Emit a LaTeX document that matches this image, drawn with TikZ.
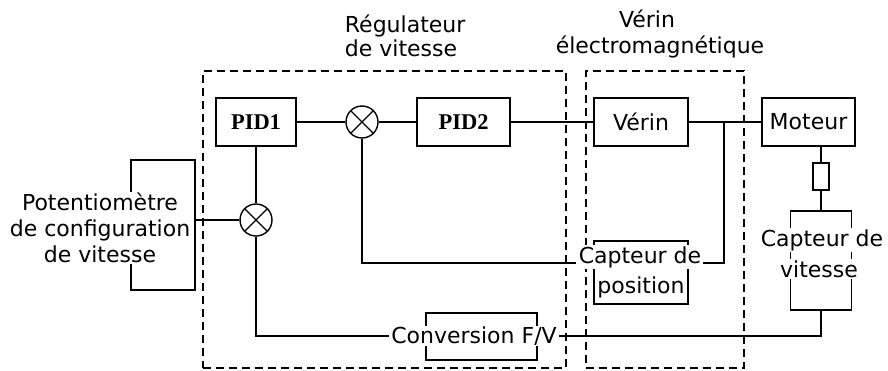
\documentclass[tikz,border=0pt]{standalone}
\usepackage{fontspec}
\setmainfont{DejaVu Sans}
\newfontfamily\pidfont{Liberation Serif}
\begin{document}
\begin{tikzpicture}[x=1pt,y=-1pt,line width=1.8pt,
  blk/.style={draw,rectangle,inner sep=0pt},
  txt/.style={font=\fontsize{22}{26}\selectfont,text=black,inner sep=1pt},
  mask/.style={txt,fill=white},
  pidtxt/.style={font=\pidfont\fontsize{22.5}{26}\selectfont\bfseries},
  sum/.style={draw,circle,minimum size=32pt,inner sep=0pt,line width=1.4pt},
  grp/.style={draw,dash pattern=on 8pt off 5pt,line width=1.5pt,rectangle,inner sep=0pt}]
\useasboundingbox (0,0) rectangle (888,370);
% groups
\node[grp,minimum width=363pt,minimum height=297pt] (reg) at (384.5,219.5) {};
\node[grp,minimum width=158pt,minimum height=297pt] (vgrp) at (665,219.5) {};
% titles
\node[txt,anchor=base west] (t1a) at (343,32) {Régulateur};
\node[txt,anchor=base west] (t1b) at (343,56) {de vitesse};
\node[txt,anchor=base] (t2a) at (647,27) {Vérin};
\node[txt,anchor=base] (t2b) at (660,53) {électromagnétique};
% blocks
\node[blk,pidtxt,minimum width=80pt,minimum height=48pt] (pid1) at (256,122) {PID1};
\node[sum] (sum1) at (362,122) {};
\node[blk,pidtxt,minimum width=93pt,minimum height=48pt] (pid2) at (463.5,122) {PID2};
\node[blk,txt,minimum width=94pt,minimum height=48pt] (verin) at (641,122) {Vérin};
\node[blk,txt,minimum width=93pt,minimum height=48pt] (moteur) at (808.5,122) {Moteur};
\node[sum] (sum2) at (256,220) {};
\node[blk,minimum width=64pt,minimum height=130pt] (pot) at (163,225) {};
\node[blk,minimum width=94pt,minimum height=63pt] (cp) at (641,272.5) {};
\node[blk,minimum width=111pt,minimum height=47pt] (conv) at (481.5,336.5) {};
\node[blk,minimum width=16pt,minimum height=27pt] (res) at (821,176.5) {};
\node[blk,minimum width=61pt,minimum height=99pt] (cv) at (821,260.5) {};
% crosses in summing junctions
\foreach \s in {sum1,sum2}{
  \draw[line width=1.2pt] (\s.45) -- (\s.225) (\s.135) -- (\s.315);
}
% coordinates
\coordinate (j1) at (724,122);
\coordinate (cpL) at (576,263);
\coordinate (cpR) at (703,263);
% connectors
\draw (pid1) -- (sum1);
\draw (sum1) -- (pid2);
\draw (pid2) -- (verin);
\draw (verin) -- (moteur);
\draw (j1) |- (cpR);
\draw (sum1) |- (cpL);
\draw (pid1) -- (sum2);
\draw (pot.east |- sum2) -- (sum2);
\draw (moteur.south -| res) -- (res);
\draw (res) -- (cv);
% masked texts
\node[mask,align=center] (pott) at (100,228) {Potentiomètre\\de configuration\\de vitesse};
\node[mask] (cpt1) at (640,257) {Capteur de};
\node[mask] (cpt2) at (641,287) {position};
\node[mask] (cvt1) at (822,240) {Capteur de};
\node[mask] (cvt2) at (819,269) {vitesse};
\node[mask] (convt) at (474,336) {Conversion F/V};
\draw (sum2) |- (convt);
\draw (convt) -| (cv);
\end{tikzpicture}
\end{document}
